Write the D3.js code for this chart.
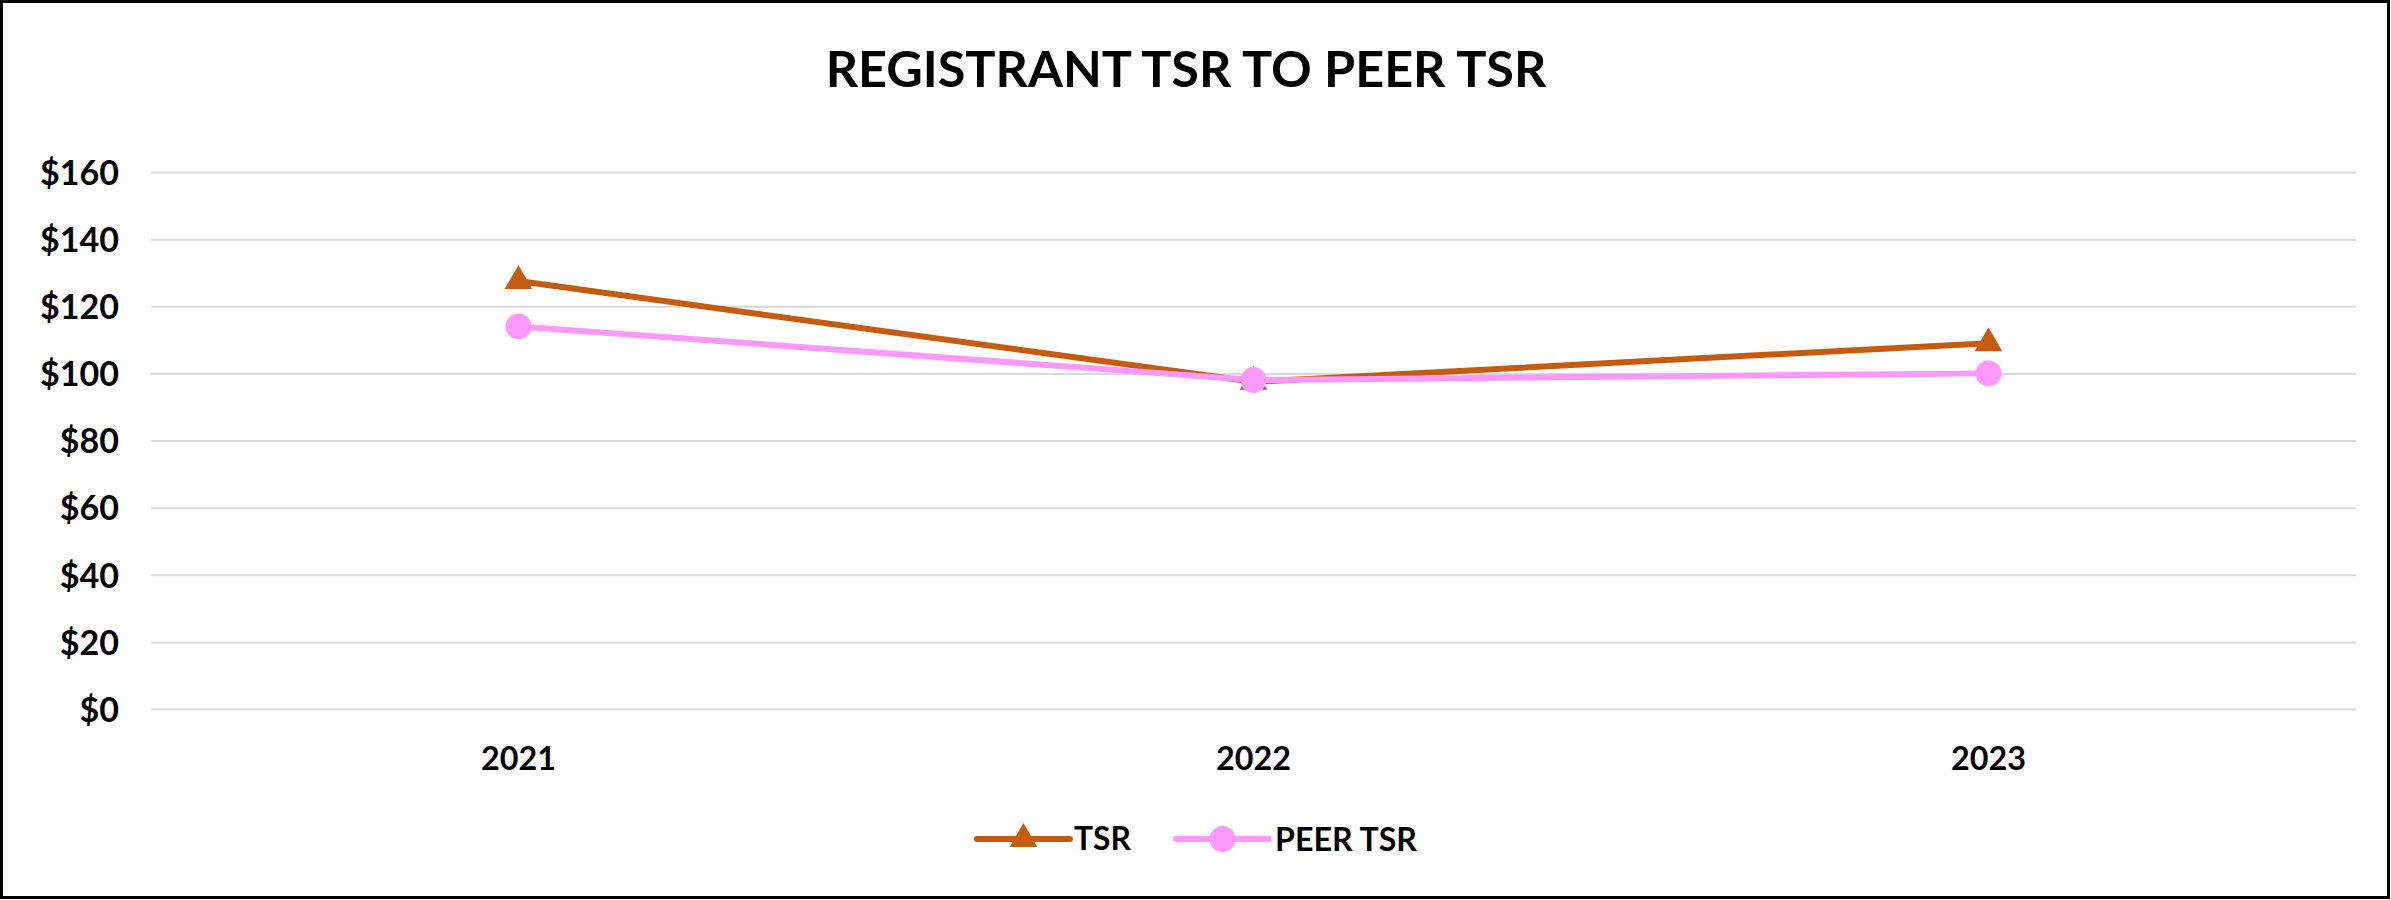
<!DOCTYPE html>
<html><head><meta charset="utf-8">
<script src="https://cdn.jsdelivr.net/npm/d3@7"></script>
<style>html,body{margin:0;padding:0;background:#fff}svg{display:block}text{font-family:Lato,"Open Sans",sans-serif;font-weight:700;fill:#000}</style>
</head><body><svg id="c" width="2391" height="900"></svg>
<script>
const years = ["2021", "2022", "2023"];
const tsr = [127.5, 97.5, 109];
const peerTsr = [114, 98, 100];
const yTicks = [0, 20, 40, 60, 80, 100, 120, 140, 160];
const seriesNames = ["TSR", "PEER TSR"];
const colors = ["#C55A11", "#FF99FF"];
const titleText = "REGISTRANT TSR TO PEER TSR";

const W = 2391, H = 900;
const svg = d3.select("#c");
svg.append("rect").attr("x", 1.5).attr("y", 1.5).attr("width", W - 4).attr("height", H - 4)
  .attr("fill", "#fff").attr("stroke", "#000").attr("stroke-width", 3);

const plot = {left: 151, right: 2356, top: 172, bottom: 709};
const x = d3.scaleBand().domain(years).range([plot.left, plot.right]);
const y = d3.scaleLinear().domain([0, 160]).range([plot.bottom, plot.top]);

function fitText(sel, targetW) {
  const node = sel.node();
  const fs = parseFloat(sel.attr("font-size"));
  const w = node.getComputedTextLength();
  sel.attr("font-size", (fs * targetW / w).toFixed(2));
}

// title
const t = svg.append("text").attr("x", 1186).attr("y", 87).attr("text-anchor", "middle")
  .attr("font-size", 56).text(titleText);
fitText(t, 721);

// grid + y axis
const yAxis = d3.axisLeft(y).tickValues(yTicks).tickSize(-(plot.right - plot.left)).tickPadding(32)
  .tickFormat(d => "$" + d);
const gy = svg.append("g").attr("transform", `translate(${plot.left},0)`).call(yAxis);
gy.select(".domain").remove();
gy.selectAll(".tick line").attr("stroke", "#D9D9D9").attr("stroke-width", 2);
gy.selectAll(".tick text").attr("font-size", 32).attr("font-family", "Lato").attr("font-weight", 700)
  .attr("fill", "#000").attr("dy", "0.36em");
{
  const s = gy.selectAll(".tick text").filter(d => d === 160);
  const w = s.node().getComputedTextLength();
  gy.selectAll(".tick text").attr("font-size", (32 * 79 / w).toFixed(2));
}

// x axis
const xAxis = d3.axisBottom(x).tickSize(0).tickPadding(0);
const gx = svg.append("g").attr("transform", `translate(0,${plot.bottom})`).call(xAxis);
gx.select(".domain").remove();
gx.selectAll(".tick text").attr("font-size", 32).attr("font-family", "Lato").attr("font-weight", 700)
  .attr("fill", "#000").attr("dy", 0).attr("y", 61);
{
  const s = gx.selectAll(".tick text").filter(d => d === "2021");
  const w = s.node().getComputedTextLength();
  gx.selectAll(".tick text").attr("font-size", (32 * 75 / w).toFixed(2));
}

const cx = d => x(d) + x.bandwidth() / 2;
const line = d3.line().x((d, i) => cx(years[i])).y(d => y(d));
const tri = d3.symbol().type(d3.symbolTriangle).size(330);

// TSR
svg.append("path").datum(tsr).attr("d", line).attr("fill", "none").attr("stroke", colors[0])
  .attr("stroke-width", 6).attr("stroke-linecap", "round").attr("stroke-linejoin", "round");
svg.selectAll(".tri").data(tsr).enter().append("path").attr("class", "tri")
  .attr("d", tri).attr("fill", colors[0])
  .attr("transform", (d, i) => `translate(${cx(years[i])},${y(d)})`);
// PEER TSR
svg.append("path").datum(peerTsr).attr("d", line).attr("fill", "none").attr("stroke", colors[1])
  .attr("stroke-width", 6).attr("stroke-linecap", "round").attr("stroke-linejoin", "round");
svg.selectAll(".dot").data(peerTsr).enter().append("circle").attr("class", "dot")
  .attr("cx", (d, i) => cx(years[i])).attr("cy", d => y(d)).attr("r", 13).attr("fill", colors[1]);

// legend
const legY = 839;
const leg = [
  {name: seriesNames[0], color: colors[0], x0: 977, x1: 1070, tx: 1074, tw: 57, type: "tri"},
  {name: seriesNames[1], color: colors[1], x0: 1176, x1: 1269, tx: 1275, tw: 142, type: "dot"}
];
leg.forEach(l => {
  svg.append("line").attr("x1", l.x0).attr("x2", l.x1).attr("y1", legY).attr("y2", legY)
    .attr("stroke", l.color).attr("stroke-width", 6).attr("stroke-linecap", "round");
  const mx = (l.x0 + l.x1) / 2;
  if (l.type === "tri") svg.append("path").attr("d", tri).attr("fill", l.color).attr("transform", `translate(${mx},${legY})`);
  else svg.append("circle").attr("cx", mx).attr("cy", legY).attr("r", 13).attr("fill", l.color);
  const tt = svg.append("text").attr("x", l.tx).attr("y", legY).attr("dy", "0.36em").attr("font-size", 32).text(l.name);
  fitText(tt, l.tw);
});
</script></body></html>
